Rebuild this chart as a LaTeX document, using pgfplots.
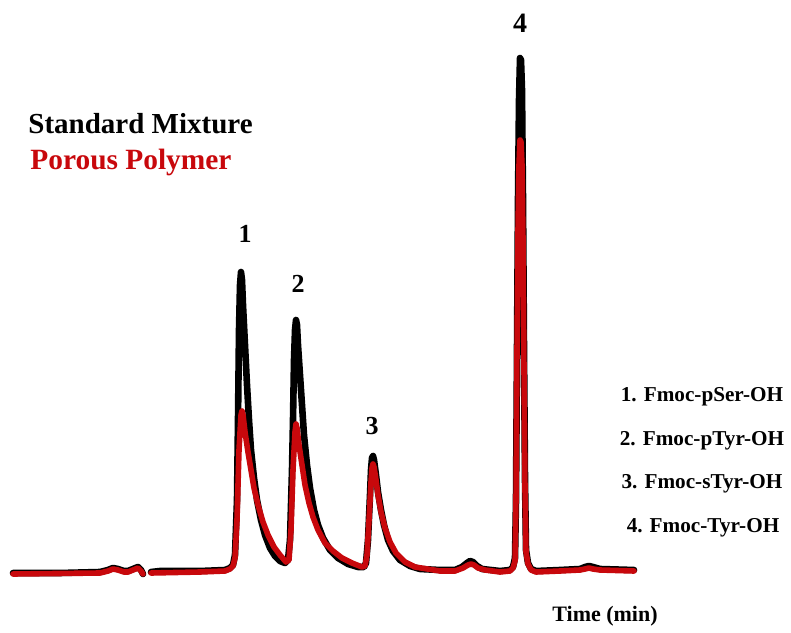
\documentclass[border=0pt]{standalone}
\usepackage{fontspec}
\setmainfont{Liberation Serif}
\usepackage{pgfplots}
\pgfplotsset{compat=1.18}
\definecolor{pred}{RGB}{200,8,12}
\begin{document}
\begin{tikzpicture}
\begin{axis}[
  width=395.5pt, height=313.5pt, scale only axis,
  xmin=0, xmax=791, ymin=0, ymax=627, y dir=reverse,
  axis lines=none, ticks=none, clip=false,
  unbounded coords=jump,
]
\path (rel axis cs:0,0) rectangle (rel axis cs:1,1);
% Standard mixture (black)
\addplot[black, line width=3.3pt, line join=round, line cap=round] coordinates {
(13,573) (60,573) (100,572) (108,570) (113,568) (118,569) (124,571) (128,571) (133,569) (138,567) (141,570) (143,574) (147,nan)
(151,572) (160,571) (200,571) (225,570) (230,568) (233,565) (235,555) (237,500) (238,420) (239,330) (240,285) (241,272) (242,280) (243,305) (245,345) (247,385) (249,420) (251,450) (254,478) (257,500) (261,520) (265,535) (270,548) (275,556) (280,561) (285,563)
(288,560) (290,540) (292,470) (293,420) (294,360) (295,330) (296,320) (297,325) (298,345) (300,375) (302,405) (304,435) (307,465) (310,488) (314,510) (318,525) (323,538) (330,550) (338,558) (348,564) (358,567) (364,567)
(366,563) (368,540) (370,495) (371,470) (372,458) (373,456) (374,460) (376,475) (378,492) (381,510) (384,525) (388,540) (393,551) (400,560) (410,566) (420,569) (440,570) (455,570) (462,567) (467,563) (470,561) (473,562) (477,566) (482,569) (500,571)
(510,570) (513,567) (515,558) (516,500) (517,350) (518,200) (519,100) (520,58) (521,60) (522,90) (523,200) (524,350) (525,480) (526,550) (528,563) (531,569) (536,571)
(560,570) (580,569) (585,567) (589,566) (593,567) (600,569) (634,570)
};
% Porous polymer (red)
\addplot[pred, line width=2.8pt, line join=round, line cap=round] coordinates {
(13,574) (100,573) (108,571) (113,569) (118,570) (124,572) (128,572) (133,570) (138,568) (141,571) (143,574) (147,nan)
(151,573) (200,572) (225,571) (230,569) (233,566) (235,558) (237,520) (239,450) (241,415) (242,411) (243,415) (245,432) (248,452) (251,470) (254,488) (258,505) (263,522) (268,535) (274,547) (280,555) (286,562)
(289,560) (291,530) (293,470) (295,432) (296,424) (297,428) (299,445) (302,465) (305,485) (309,503) (313,517) (318,530) (325,543) (333,551) (342,558) (352,563) (362,567)
(365,566) (367,555) (369,520) (371,482) (372,468) (373,464) (374,467) (376,480) (378,495) (381,512) (385,528) (390,542) (396,553) (405,562) (415,567) (440,571) (455,571) (463,568) (468,565) (471,564) (474,565) (478,568) (485,570) (500,572)
(510,571) (513,568) (515,561) (516,500) (517,350) (518,230) (519,165) (520,140) (521,142) (522,165) (523,240) (524,370) (525,490) (526,552) (528,564) (531,570) (536,572)
(560,571) (580,570) (585,569) (589,568) (593,569) (600,570) (634,571)
};
% labels
\node[anchor=base west, inner sep=0pt, font=\fontsize{14.5}{17}\selectfont\bfseries] at (axis cs:28,134) {Standard Mixture};
\node[anchor=base west, inner sep=0pt, text=pred, font=\fontsize{14.7}{17}\selectfont\bfseries] at (axis cs:30,170) {Porous Polymer};
\node[anchor=base, font=\fontsize{13}{15}\selectfont\bfseries] at (axis cs:245,243) {1};
\node[anchor=base, font=\fontsize{13}{15}\selectfont\bfseries] at (axis cs:298,293) {2};
\node[anchor=base, font=\fontsize{13}{15}\selectfont\bfseries] at (axis cs:372,434) {3};
\node[anchor=base, font=\fontsize{14}{16}\selectfont\bfseries] at (axis cs:520,33) {4};
\node[anchor=base, font=\fontsize{10.6}{12}\selectfont\bfseries] at (axis cs:702,401) {1. Fmoc-pSer-OH};
\node[anchor=base, font=\fontsize{10.6}{12}\selectfont\bfseries] at (axis cs:702,445) {2. Fmoc-pTyr-OH};
\node[anchor=base, font=\fontsize{10.6}{12}\selectfont\bfseries] at (axis cs:702,488) {3. Fmoc-sTyr-OH};
\node[anchor=base, font=\fontsize{10.6}{12}\selectfont\bfseries] at (axis cs:703,532) {4. Fmoc-Tyr-OH};
\node[anchor=base, font=\fontsize{11}{13}\selectfont\bfseries] at (axis cs:605,621) {Time (min)};
\end{axis}
\end{tikzpicture}
\end{document}
